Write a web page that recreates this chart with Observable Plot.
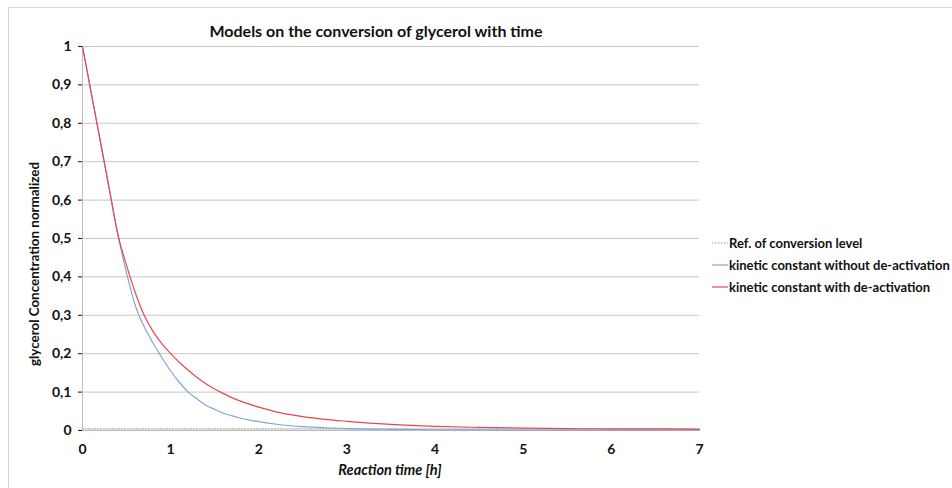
<!DOCTYPE html>
<html>
<head>
<meta charset="utf-8">
<script src="https://cdn.jsdelivr.net/npm/d3@7"></script>
<script src="https://cdn.jsdelivr.net/npm/@observablehq/plot@0.6"></script>
<style>
  html, body { margin: 0; padding: 0; background: #fff; overflow: hidden; }
  #wrap { position: relative; width: 952px; height: 488px; overflow: hidden; font-family: Lato, "Open Sans", sans-serif; }
  #frame { position: absolute; left: 8px; top: 7px; width: 1000px; height: 600px; border: 1px solid #d4d4d4; box-sizing: border-box; }
  #chart { position: absolute; left: 0; top: 0; }
  .title { position: absolute; left: 0; width: 752px; top: 22px; line-height: 18px; text-align: center; font-weight: bold; font-size: 16px; color: #111; }
  .xlab { position: absolute; left: 0; width: 780px; top: 461px; line-height: 18px; text-align: center; font-weight: bold; font-style: italic; font-size: 14.5px; color: #111; }
  .ylab { position: absolute; left: 34px; top: 264px; transform: translate(-50%, -50%) rotate(-90deg); white-space: nowrap; font-weight: bold; font-size: 13.4px; color: #111; }
  .legend { position: absolute; left: 712px; top: 232px; }
  .legend .row { display: flex; align-items: center; height: 22px; white-space: nowrap; font-weight: bold; font-size: 13px; color: #111; }
  .legend svg { margin-right: 1px; }
</style>
</head>
<body>
<div id="wrap">
  <div id="frame"></div>
  <div id="chart"></div>
  <div class="title">Models on the conversion of glycerol with time</div>
  <div class="ylab">glycerol Concentration normalized</div>
  <div class="xlab">Reaction time [h]</div>
  <div class="legend" id="legend"></div>
</div>
<script>
// Reaction time [h]
const time = [0, 0.1, 0.2, 0.3, 0.4, 0.5, 0.6, 0.7, 0.8, 0.9, 1.0, 1.1, 1.2, 1.3, 1.4, 1.5, 1.6, 1.7, 1.8, 1.9, 2.0,
              2.25, 2.5, 2.75, 3.0, 3.5, 4.0, 4.5, 5.0, 5.5, 6.0, 6.5, 7.0];
// kinetic constant without de-activation
const withoutDeact = [1, 0.878, 0.756, 0.634, 0.512, 0.41, 0.325, 0.27, 0.228, 0.19, 0.155, 0.125, 0.1, 0.082, 0.066, 0.055, 0.045, 0.038, 0.032, 0.027, 0.023,
                      0.015, 0.01, 0.007, 0.005, 0.003, 0.002, 0.0015, 0.001, 0.001, 0.001, 0.001, 0.001];
// kinetic constant with de-activation
const withDeact = [1, 0.878, 0.756, 0.634, 0.512, 0.43, 0.358, 0.3, 0.258, 0.226, 0.2, 0.177, 0.157, 0.138, 0.122, 0.108, 0.096, 0.085, 0.076, 0.068, 0.061,
                   0.046, 0.036, 0.029, 0.024, 0.016, 0.011, 0.008, 0.006, 0.005, 0.004, 0.004, 0.003];
// Ref. of conversion level
const refLevel = 0.004;

const seriesNames = ["Ref. of conversion level", "kinetic constant without de-activation", "kinetic constant with de-activation"];
const seriesColors = ["#9a9a9a", "#7fa6d8", "#e8474f"];

const xTicks = [0, 1, 2, 3, 4, 5, 6, 7];
const yTicks = [0, 0.1, 0.2, 0.3, 0.4, 0.5, 0.6, 0.7, 0.8, 0.9, 1];

const blueData = time.map((t, i) => ({t, v: withoutDeact[i]}));
const redData = time.map((t, i) => ({t, v: withDeact[i]}));
const refData = [{t: 0, v: refLevel}, {t: 7, v: refLevel}];

const fmtY = d => d === 0 ? "0" : d === 1 ? "1" : d.toFixed(1).replace(".", ",");

const chart = Plot.plot({
  width: 952,
  height: 488,
  marginLeft: 82,
  marginRight: 253,
  marginTop: 46,
  marginBottom: 58,
  style: {fontFamily: "Lato, 'Open Sans', sans-serif", fontSize: "14px", fontWeight: "bold", color: "#111", background: "transparent"},
  x: {domain: [0, 7], ticks: xTicks, tickFormat: d => String(d), tickSize: 0, tickPadding: 14, label: null},
  y: {domain: [0, 1], ticks: yTicks, tickFormat: fmtY, tickSize: 4, tickPadding: 7, label: null},
  marks: [
    Plot.gridY(yTicks, {stroke: "#c8c8c8", strokeOpacity: 1}),
    Plot.ruleX([0], {stroke: "#bdbdbd"}),
    Plot.ruleY([0], {stroke: "#bdbdbd"}),
    Plot.lineY(refData, {x: "t", y: "v", stroke: seriesColors[0], strokeWidth: 1, strokeDasharray: "1.5,1.5"}),
    Plot.lineY(blueData, {x: "t", y: "v", stroke: seriesColors[1], strokeWidth: 1.2, curve: "monotone-x"}),
    Plot.lineY(redData, {x: "t", y: "v", stroke: seriesColors[2], strokeWidth: 1.2, curve: "monotone-x"})
  ]
});
document.getElementById("chart").appendChild(chart);

const legend = document.getElementById("legend");
seriesNames.forEach((name, i) => {
  const row = document.createElement("div");
  row.className = "row";
  const dash = i === 0 ? ' stroke-dasharray="1.5,1.5"' : '';
  row.innerHTML = `<svg width="16" height="4"><line x1="0" y1="2" x2="16" y2="2" stroke="${seriesColors[i]}" stroke-width="1.2"${dash}/></svg><span>${name}</span>`;
  legend.appendChild(row);
});
</script>
</body>
</html>
